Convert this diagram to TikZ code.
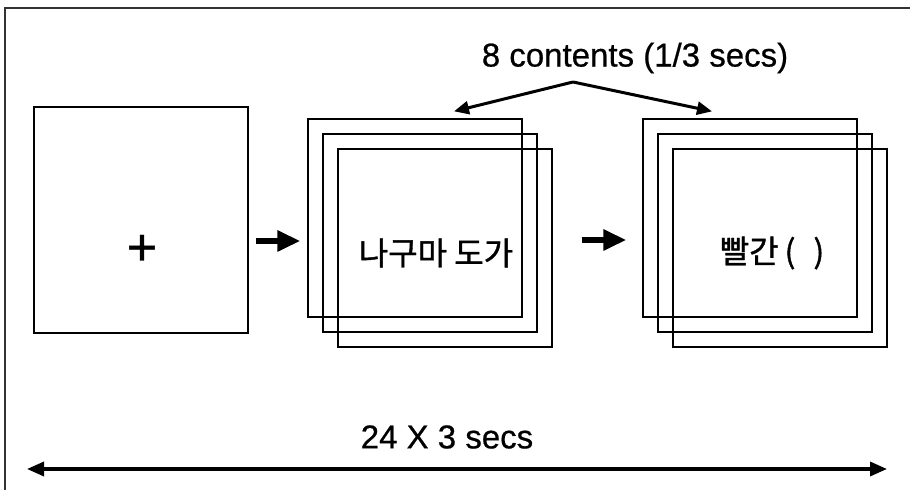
\documentclass[tikz,border=0pt]{standalone}
\usepackage{fontspec}
\setmainfont{Liberation Sans}[FakeBold=0.6]
\newfontfamily\kor{Noto Sans CJK KR}[FakeBold=1.2]
\usetikzlibrary{arrows.meta}

\begin{document}
\begin{tikzpicture}[x=0.5pt,y=-0.5pt,
        card/.style={rectangle,draw,line width=0.65pt,inner sep=0pt,
          minimum width=107pt,minimum height=99pt},
        bigarrow/.style={-{Triangle[length=11.5pt,width=10pt]},line width=3pt},
        thinarrow/.style={-{Triangle[length=7.5pt,width=6.5pt]},line width=1.5pt},
        spanarrow/.style={{Triangle[length=8.5pt,width=7pt]}-{Triangle[length=8.5pt,width=7pt]},
          line width=1.7pt},
        lbl/.style={font=\fontsize{16.5}{20}\selectfont},
        word/.style={font=\kor\fontsize{16}{19}\selectfont}]
      \useasboundingbox (0,0) rectangle (910,490);
      \draw[line width=0.7pt,black!80] (5,490) -- (5,8) -- (910,8);

      \node[card,minimum height=113pt] (fix) at (141,220) {};
      \node[inner sep=0pt,font=\fontsize{26}{26}\selectfont] (plus) at (142,250) {+};

      \node[card] (frmA1) at (415,218) {};
      \node[card] (frmA2) at ([shift={(15,15)}]frmA1) {};
      \node[card] (frmA3) at ([shift={(15,15)}]frmA2) {};
      \node[word] (wordA) at (436,253) {나구마 도가};

      \node[card] (frmB1) at (750,218) {};
      \node[card] (frmB2) at ([shift={(15,15)}]frmB1) {};
      \node[card] (frmB3) at ([shift={(15,15)}]frmB2) {};
      \node[word] (wordB) at (772,253) {빨간\hspace{3pt}(\hspace{9pt})};

      \coordinate (arrA) at (278,241);
      \coordinate (arrB) at (605,240);
      \draw[bigarrow,shorten <=3.5pt,shorten >=3.5pt] (fix.east |- arrA) -- (frmA1.west |- arrA);
      \draw[bigarrow,shorten <=14.5pt,shorten >=8pt] (frmA3.east |- arrB) -- (frmB1.west |- arrB);

      \node[lbl] (cnt) at (635,58) {8 contents (1/3 secs)};
      \coordinate (peak) at (573,82);
      \draw[thinarrow] (peak) -- ([xshift=19.5pt,yshift=3.5pt]frmA1.north);
      \draw[thinarrow] (peak) -- ([xshift=-19pt,yshift=3.5pt]frmB1.north);

      \node[lbl] (total) at (447,437) {24 X 3 secs};
      \coordinate (endL) at (27,469);
      \coordinate (endR) at (887,469);
      \draw[spanarrow] (endL) -- (endR);
      \end{tikzpicture}
\end{document}
